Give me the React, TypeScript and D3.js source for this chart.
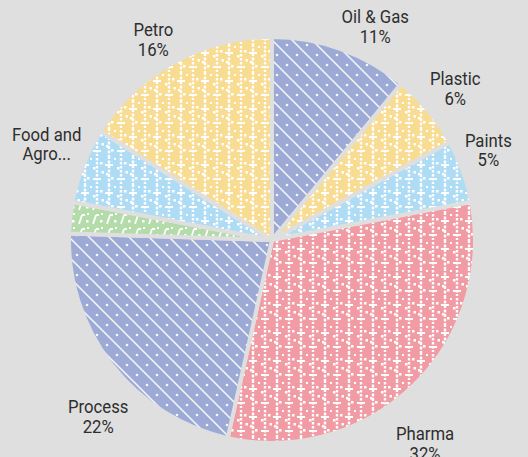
import React from "react";
import * as d3 from "d3";

const categories = ["Oil & Gas", "Plastic", "Paints", "Pharma", "Process", "Others", "Food and Agro Industry", "Petro"];
const values = [11, 6, 5, 31.5, 22, 2.5, 6, 16];
const labelNames = [["Oil & Gas"], ["Plastic"], ["Paints"], ["Pharma"], ["Process"], [], ["Food and", "Agro..."], ["Petro"]];
const colors = ["#9eaad6", "#f8dc92", "#afdcf5", "#f19ba4", "#9eaad6", "#b4dcab", "#afdcf5", "#f8dc92"];
const patternKinds = ["diag", "vert", "vert", "vert", "diag", "slant", "vert", "vert"];

const W = 528;
const H = 457;
const BG = "#dfdfdf";
const FONT_SIZE = 19;
const SCALE_X = 0.88;
const LINE_H = 19.5;

function measure(text: string): number {
  const c = document.createElement("canvas");
  const ctx = c.getContext("2d");
  if (!ctx) return text.length * 9;
  ctx.font = `${FONT_SIZE}px Roboto`;
  return ctx.measureText(text).width * SCALE_X;
}

function Pattern({ id, kind, color }: { id: string; kind: string; color: string }) {
  if (kind === "diag") {
    return (
      <pattern id={id} width={20} height={20} patternUnits="userSpaceOnUse">
        <rect width={20} height={20} fill={color} />
        <path d="M-5,-5L25,25M-5,15L5,25M15,-5L25,5" stroke="#fff" strokeWidth={1.5} opacity={0.9} />
        <circle cx={15} cy={5} r={1.3} fill="#fff" opacity={0.9} />
        <circle cx={5} cy={15} r={1.3} fill="#fff" opacity={0.9} />
      </pattern>
    );
  }
  if (kind === "slant") {
    return (
      <pattern id={id} width={14} height={14} patternUnits="userSpaceOnUse">
        <rect width={14} height={14} fill={color} />
        <path d="M3,12L6,3M6,3L9,3" stroke="#fff" strokeWidth={1.8} />
        <rect x={10} y={8} width={2.5} height={2.5} fill="#fff" />
        <rect x={11} y={1} width={2} height={2} fill="#fff" />
      </pattern>
    );
  }
  return (
    <pattern id={id} width={24} height={28} patternUnits="userSpaceOnUse">
      <rect width={24} height={28} fill={color} />
      <line x1={5} y1={0} x2={5} y2={28} stroke="#fff" strokeWidth={2.4} strokeDasharray="3 1.5" />
      <line x1={17} y1={2} x2={17} y2={30} stroke="#fff" strokeWidth={2.4} strokeDasharray="2.5 1.5" />
      <rect x={1} y={8} width={8} height={2} fill="#fff" />
      <rect x={2} y={17} width={2.5} height={2.5} fill="#fff" />
      <rect x={7} y={21} width={2.5} height={2.5} fill="#fff" />
      <rect x={13} y={22} width={8} height={2} fill="#fff" />
      <rect x={20} y={6} width={2.5} height={2.5} fill="#fff" />
      <rect x={13} y={11} width={2.5} height={2.5} fill="#fff" />
      <rect x={10} y={2} width={2} height={2} fill="#fff" />
      <rect x={21.5} y={15} width={2.5} height={2.5} fill="#fff" />
    </pattern>
  );
}

export default function App() {
  const cx = 272;
  const cy = 240;
  const r = 203;

  const pie = d3
    .pie<number>()
    .sort(null)
    .value((d) => d)
    .startAngle(0)
    .endAngle(2 * Math.PI);
  const arcs = pie(values);
  const arcGen = d3.arc<d3.PieArcDatum<number>>().innerRadius(0).outerRadius(r);

  const R_TOP = 205;
  const R_BX = 220;
  const R_BY = 258;

  return (
    <svg width={W} height={H} style={{ position: "absolute", left: 0, top: 0 }}>
      <defs>
        {values.map((_, i) => (
          <Pattern key={i} id={`pat-${i}`} kind={patternKinds[i]} color={colors[i]} />
        ))}
      </defs>
      <rect width={W} height={H} fill={BG} />
      <g transform={`translate(${cx},${cy})`}>
        {arcs.map((a, i) => (
          <path key={categories[i]} d={arcGen(a) || ""} fill={`url(#pat-${i})`} stroke={BG} strokeWidth={4} strokeLinejoin="round" />
        ))}
        {arcs.map((a, i) => {
          const names = labelNames[i];
          if (!names.length) return null;
          const lines = names.length === 1 ? [...names, `${Math.round(values[i])}%`] : names;
          const w = Math.max(...lines.map(measure));
          const h = lines.length * LINE_H;
          const m = (a.startAngle + a.endAngle) / 2;
          const ux = Math.sin(m);
          const uy = -Math.cos(m);
          let lx: number;
          let ly: number;
          if (uy <= 0) {
            lx = R_TOP * ux + Math.sign(ux) * (w / 2);
            ly = R_TOP * uy - h / 2;
          } else {
            lx = R_BX * ux;
            ly = R_BY * uy + h / 2;
          }
          const top = ly - h / 2;
          return (
            <g key={`l-${i}`}>
              {lines.map((t, j) => (
                <text
                  key={j}
                  transform={`translate(${lx},${top + 15 + j * LINE_H}) scale(${SCALE_X},1)`}
                  textAnchor="middle"
                  fontFamily="Roboto, 'Open Sans', sans-serif"
                  fontSize={FONT_SIZE}
                  fill="#2e2e2e"
                >
                  {t}
                </text>
              ))}
            </g>
          );
        })}
      </g>
    </svg>
  );
}
